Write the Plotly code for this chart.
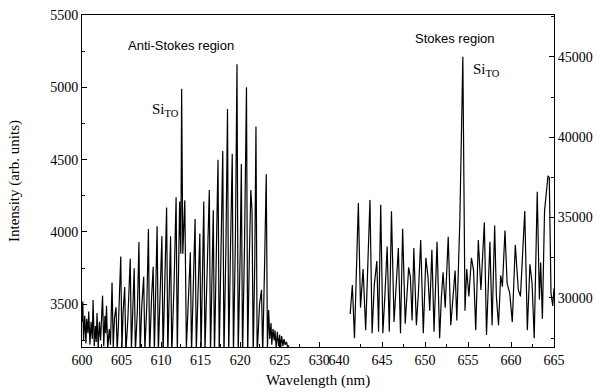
import plotly.graph_objects as go

# Anti-Stokes region (left axis)
as_wl = [600.0, 600.1, 600.2, 600.35, 600.5, 600.6, 600.75, 600.85, 601.0, 601.15,
         601.3, 601.4, 601.55, 601.7, 601.8, 601.9, 602.05, 602.2, 602.35, 602.6,
         602.75, 602.9, 603.0, 603.1, 603.25, 603.45, 603.6, 603.8, 603.95, 604.1,
         604.3, 604.45, 604.6, 604.9, 605.05, 605.2, 605.4, 605.55, 605.8, 606.1,
         606.25, 606.4, 606.6, 606.75, 607.0, 607.2, 607.35, 607.55, 607.8, 607.95,
         608.2, 608.4, 608.55, 608.8, 609.0, 609.15, 609.35, 609.5, 609.65, 609.9,
         610.1, 610.25, 610.5, 610.7, 610.85, 611.05, 611.2, 611.35, 611.65, 611.9,
         612.05, 612.2, 612.35, 612.5, 612.6, 612.75, 613.0, 613.2, 613.45, 613.7,
         613.85, 614.1, 614.3, 614.45, 614.7, 614.9, 615.05, 615.25, 615.4, 615.55,
         615.85, 616.1, 616.25, 616.45, 616.6, 616.75, 617.0, 617.2, 617.35, 617.6,
         617.8, 617.95, 618.2, 618.4, 618.55, 618.8, 619.0, 619.15, 619.4, 619.6,
         619.75, 620.0, 620.15, 620.3, 620.55, 620.8, 620.95, 621.15, 621.35, 621.5,
         621.65, 621.85, 622.0, 622.15, 622.45, 622.7, 622.85, 623.1, 623.3, 623.45,
         623.6, 623.75, 623.9, 624.0, 624.15, 624.3, 624.4, 624.55, 624.7, 624.85,
         625.0, 625.1, 625.25, 625.4, 625.55, 625.7, 625.85, 626.0, 626.2]
as_int = [3380, 3520, 3250, 3420, 3230, 3400, 3300, 3450, 3220, 3380,
          3260, 3530, 3210, 3350, 3240, 3440, 3200, 3380, 3250, 3560,
          3210, 3420, 3300, 3490, 3190, 3330, 3220, 3650, 3200, 3400,
          3480, 3180, 3350, 3830, 3190, 3450, 3620, 3170, 3400, 3815,
          3180, 3500, 3750, 3170, 3450, 3930, 3160, 3480, 3690, 3180,
          3500, 4020, 3150, 3550, 3760, 3170, 3600, 4040, 3160, 3550,
          3970, 3150, 3650, 4170, 3160, 3580, 3970, 3150, 3650, 4240,
          3160, 3700, 4210, 3850, 4990, 3850, 4220, 3200, 3600, 3860,
          3160, 3700, 4090, 3180, 3650, 3990, 3150, 3750, 4210, 3170,
          3800, 4290, 3150, 3750, 4150, 3140, 3850, 4500, 3150, 3900,
          4560, 3140, 3900, 4850, 3150, 3950, 4540, 3140, 3950, 5160,
          3150, 3850, 4470, 3140, 3900, 5000, 3150, 3800, 4290, 4150,
          3150, 3800, 4730, 3150, 3500, 3600, 3150, 3800, 4400, 3200,
          3460, 3260, 3370, 3220, 3330, 3250, 3320, 3200, 3310, 3210,
          3290, 3190, 3280, 3210, 3260, 3220, 3240, 3205, 3215]

# Stokes region (right axis)
st_wl = [641.3, 641.55, 641.8, 642.25, 642.5, 642.8, 643.1, 643.6, 643.85, 644.1,
         644.4, 644.6, 644.85, 645.1, 645.35, 645.6, 645.85, 646.1, 646.4, 646.65,
         646.9, 647.15, 647.4, 647.7, 647.9, 648.1, 648.3, 648.5, 648.7, 649.0,
         649.25, 649.5, 649.8, 650.1, 650.35, 650.55, 650.8, 651.05, 651.4, 651.7,
         651.9, 652.1, 652.35, 652.7, 653.0, 653.3, 653.5, 653.7, 654.05, 654.4,
         654.65, 654.85, 655.1, 655.4, 655.65, 655.9, 656.2, 656.5, 656.9, 657.15,
         657.55, 657.8, 658.1, 658.3, 658.55, 658.8, 659.0, 659.3, 659.55, 659.85,
         660.15, 660.5, 660.85, 661.1, 661.35, 661.6, 661.9, 662.2, 662.45, 662.7,
         663.05, 663.3, 663.45, 663.65, 663.9, 664.3, 664.45, 664.65, 664.85, 665.0]
st_int = [29000, 30800, 27500, 35900, 29400, 31800, 28000, 36100, 27800, 30800,
          32300, 27900, 35800, 27800, 30300, 33200, 27900, 35400, 28500, 31000,
          33100, 27800, 34300, 28400, 30500, 31900, 31300, 28600, 33100, 28300,
          30500, 33600, 27800, 32500, 31300, 29200, 33000, 27900, 33500, 27500,
          30000, 31600, 29400, 33800, 28300, 30100, 31700, 28600, 34800, 45000,
          29200, 31800, 30100, 32500, 31700, 28000, 33600, 30500, 34700, 27700,
          33500, 28300, 34500, 30100, 28300, 31400, 30700, 34200, 30900, 30300,
          28500, 33300, 30500, 30100, 33000, 35400, 28000, 32100, 30900, 27500,
          36600, 29900, 32200, 28700, 35400, 37600, 37500, 30300, 29500, 30600]

x_ticks_left = [600, 605, 610, 615, 620, 625, 630]
x_ticks_right = [640, 645, 650, 655, 660, 665]
y_ticks_left = [3500, 4000, 4500, 5000, 5500]
y_ticks_right = [30000, 35000, 40000, 45000]

serif = "Liberation Serif, Times New Roman, serif"
sans = "Liberation Sans, Arial, sans-serif"
split = 0.5445

fig = go.Figure()
fig.add_trace(go.Scatter(x=as_wl, y=as_int, mode="lines", xaxis="x", yaxis="y",
                         line=dict(color="black", width=1.2), showlegend=False))
fig.add_trace(go.Scatter(x=st_wl, y=st_int, mode="lines", xaxis="x2", yaxis="y2",
                         line=dict(color="black", width=1.2), showlegend=False))

common_x = dict(showgrid=False, zeroline=False, showline=True, linecolor="black",
                linewidth=1, mirror=True, ticks="inside", ticklen=5, tickcolor="black",
                automargin=False,
                tickfont=dict(family=serif, size=14, color="black"))
common_y = dict(showgrid=False, zeroline=False, showline=True, linecolor="black",
                linewidth=1, ticks="inside", ticklen=5, tickcolor="black",
                automargin=False,
                tickfont=dict(family=serif, size=14, color="black"))

fig.update_layout(
    width=602, height=392,
    margin=dict(l=82, r=48, t=15, b=45),
    paper_bgcolor="white", plot_bgcolor="white",
    xaxis=dict(domain=[0, split], range=[600, 632.5], tickvals=x_ticks_left,
               ticktext=[str(v) for v in x_ticks_left],
               minor=dict(dtick=2.5, tick0=600, ticks="inside", ticklen=3, tickcolor="black"),
               anchor="y", **common_x),
    xaxis2=dict(domain=[split, 1], range=[640, 665], tickvals=x_ticks_right,
                ticktext=[str(v) for v in x_ticks_right],
                minor=dict(dtick=2.5, tick0=640, ticks="inside", ticklen=3, tickcolor="black"),
                anchor="y2", **common_x),
    yaxis=dict(domain=[0, 1], range=[3205, 5500], tickvals=y_ticks_left,
               ticktext=[str(v) for v in y_ticks_left],
               minor=dict(dtick=250, tick0=3500, ticks="inside", ticklen=3, tickcolor="black"),
               anchor="x", side="left",
               title=dict(text="Intensity (arb. units)", font=dict(family=serif, size=15, color="black"), standoff=26),
               **common_y),
    yaxis2=dict(domain=[0, 1], range=[26950, 47600], tickvals=y_ticks_right,
                ticktext=[str(v) for v in y_ticks_right],
                minor=dict(dtick=2500, tick0=27500, ticks="inside", ticklen=3, tickcolor="black"),
                anchor="x2", side="right", **common_y),
)

fig.add_annotation(text="Wavelength (nm)", xref="paper", yref="paper", x=0.5, y=-0.1,
                   xanchor="center", yanchor="middle", showarrow=False,
                   font=dict(family=serif, size=15, color="black"))
fig.add_annotation(text="Anti-Stokes region", xref="paper", yref="paper", x=0.21, y=0.907,
                   xanchor="center", yanchor="middle",
                   showarrow=False, font=dict(family=sans, size=13, color="black"))
fig.add_annotation(text="Stokes region", xref="paper", yref="paper", x=0.79, y=0.928,
                   xanchor="center", yanchor="middle",
                   showarrow=False, font=dict(family=sans, size=13, color="black"))
fig.add_annotation(text="Si<sub>TO</sub>", xref="paper", yref="paper", x=0.176, y=0.714,
                   xanchor="center", yanchor="middle",
                   showarrow=False, font=dict(family=serif, size=15, color="black"))
fig.add_annotation(text="Si<sub>TO</sub>", xref="paper", yref="paper", x=0.858, y=0.834,
                   xanchor="center", yanchor="middle",
                   showarrow=False, font=dict(family=serif, size=15, color="black"))

fig.write_html("out.html")
